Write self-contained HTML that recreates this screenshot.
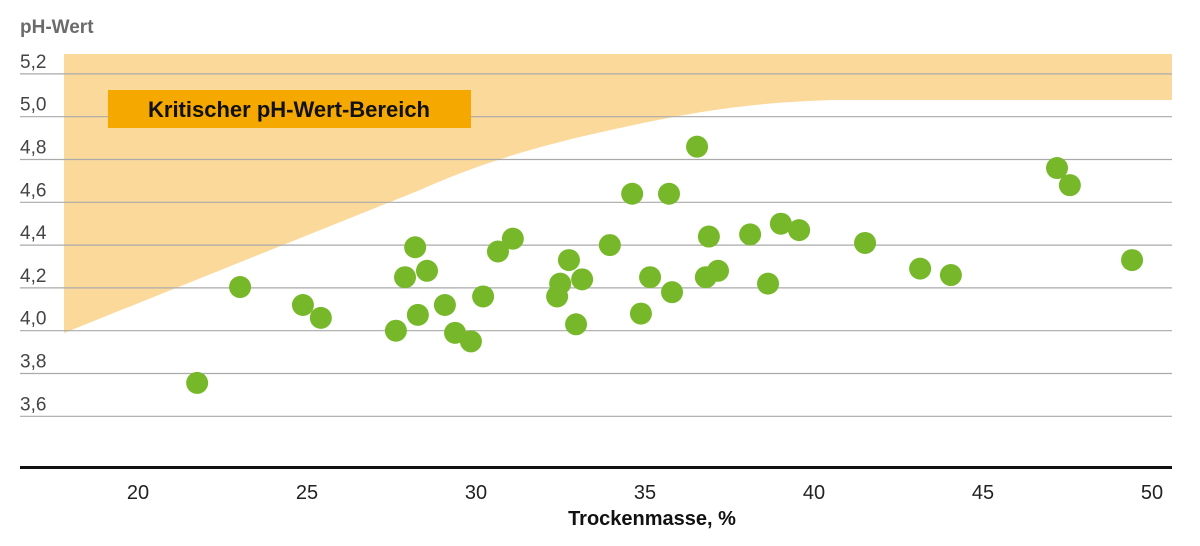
<!DOCTYPE html>
<html><head><meta charset="utf-8"><style>
body{margin:0;background:#fff}
svg{display:block;font-family:"Liberation Sans",sans-serif}
</style></head><body>
<svg id="c" width="1200" height="546">
<text x="20" y="33" font-size="19" font-weight="bold" fill="#6b6b6b">pH-Wert</text>
<path d="M64,54 L1172,54 L1172,100 L835,100 C760,102 700,110 620,128 C540,145 480,163 420,190 L64,333 Z" fill="#fbd99b"/>
<g id="grid"></g>
<rect x="108" y="90" width="363" height="38" fill="#f5a800"/>
<text x="289" y="117" font-size="22" font-weight="bold" text-anchor="middle" fill="#111">Kritischer pH-Wert-Bereich</text>
<g id="dots"></g>
<rect x="20" y="466" width="1152" height="3" fill="#111"/>
<g id="xt"></g>
<text x="652" y="525" font-size="20" font-weight="bold" text-anchor="middle" fill="#111">Trockenmasse, %</text>
</svg>
<script>
const yTicks=[5.2,5.0,4.8,4.6,4.4,4.2,4.0,3.8,3.6];
const yTickLabels=["5,2","5,0","4,8","4,6","4,4","4,2","4,0","3,8","3,6"];
const xTicks=[20,25,30,35,40,45,50];
const xVals=[21.75,23.02,24.88,25.41,27.63,27.90,28.20,28.28,28.55,29.08,29.38,29.85,30.21,30.65,31.09,32.40,32.49,32.75,32.96,33.14,33.96,34.62,34.88,35.15,35.71,35.80,36.54,36.80,36.89,37.16,38.11,38.64,39.02,39.56,41.51,43.14,44.05,47.19,47.57,49.41];
const yVals=[3.756,4.204,4.12,4.06,4.00,4.25,4.39,4.074,4.28,4.12,3.99,3.95,4.16,4.37,4.43,4.16,4.22,4.33,4.03,4.24,4.40,4.64,4.08,4.25,4.64,4.18,4.86,4.25,4.44,4.28,4.45,4.22,4.50,4.47,4.41,4.29,4.26,4.76,4.68,4.33];
const X=v=>138+(v-20)*33.8;
const Y=v=>330.7-(v-4)*214;
const NS="http://www.w3.org/2000/svg";
const g=document.getElementById('grid'),d=document.getElementById('dots'),xt=document.getElementById('xt');
yTicks.forEach((t,i)=>{
 const l=document.createElementNS(NS,'line');
 l.setAttribute('x1',20);l.setAttribute('x2',1172);l.setAttribute('y1',Y(t));l.setAttribute('y2',Y(t));
 l.setAttribute('stroke','#aaa');l.setAttribute('stroke-width','1.2');
 
 
 g.appendChild(l);
 const tx=document.createElementNS(NS,'text');
 tx.setAttribute('x',20);tx.setAttribute('y',Y(t)-6);tx.setAttribute('font-size','19');tx.setAttribute('fill','#444');
 tx.textContent=yTickLabels[i];
 
 
 g.appendChild(tx);
});
xTicks.forEach(t=>{
 const tx=document.createElementNS(NS,'text');
 tx.setAttribute('x',X(t));tx.setAttribute('y',499);tx.setAttribute('font-size','20');tx.setAttribute('fill','#222');tx.setAttribute('text-anchor','middle');
 tx.textContent=t;
 
 
 xt.appendChild(tx);
});
xVals.forEach((v,i)=>{
 const c=document.createElementNS(NS,'circle');
 c.setAttribute('cx',X(v));c.setAttribute('cy',Y(yVals[i]));c.setAttribute('r',11);c.setAttribute('fill','#76b82a');
 
 
 d.appendChild(c);
});
</script>
</body></html>
